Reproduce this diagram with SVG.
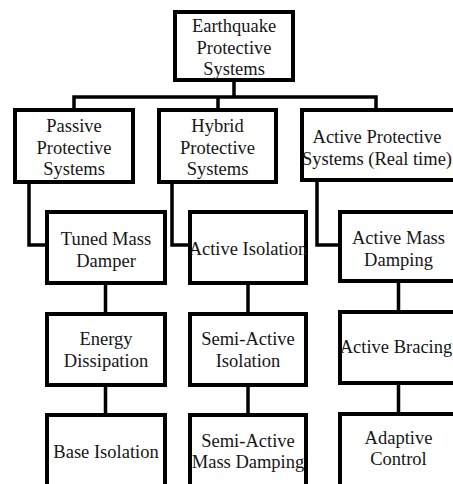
<svg xmlns="http://www.w3.org/2000/svg" width="453" height="484" viewBox="0 0 453 484" font-family="Liberation Serif, Times New Roman, serif">
<style>
.box{fill:#fff;stroke:#000;stroke-width:4;}
.t{font-family:'Liberation Serif', 'Times New Roman', serif;font-size:18.5px;fill:#161616;text-anchor:middle;}
.c{fill:none;stroke:#000;stroke-width:3.5;stroke-linejoin:miter;stroke-linecap:square;}
</style>
<rect width="453" height="484" fill="#fff"/>
<g id="connectors">
<path class="c" d="M234,82 V97 M74,110 V97 H376 V110 M218,97 V110"/>
<path class="c" d="M29,183 V245 H46"/>
<path class="c" d="M172,183 V245 H189"/>
<path class="c" d="M317,181 V245 H339"/>
<path class="c" d="M105.5,284 V312 M105.5,387 V414"/>
<path class="c" d="M248,284 V312 M248,387 V414"/>
<path class="c" d="M398.5,282 V310 M398.5,385 V412"/>
</g>
<g id="n-root">
<rect class="box" x="175" y="12" width="118" height="68"/>
<text class="t" x="234" y="32">Earthquake</text>
<text class="t" x="234" y="53.5">Protective</text>
<text class="t" x="234" y="75">Systems</text>
</g>
<g id="n-passive">
<rect class="box" x="15" y="110" width="118" height="72"/>
<text class="t" x="74" y="132">Passive</text>
<text class="t" x="74" y="153.5">Protective</text>
<text class="t" x="74" y="175">Systems</text>
</g>
<g id="n-hybrid">
<rect class="box" x="159" y="110" width="117" height="72"/>
<text class="t" x="217.5" y="132">Hybrid</text>
<text class="t" x="217.5" y="153.5">Protective</text>
<text class="t" x="217.5" y="175">Systems</text>
</g>
<g id="n-active">
<rect class="box" x="302" y="110" width="160" height="70"/>
<text class="t" x="377" y="143">Active Protective</text>
<text class="t" x="377" y="165">Systems (Real time)</text>
</g>
<g id="n-tuned">
<rect class="box" x="47" y="212" width="118" height="71"/>
<text class="t" x="106" y="245">Tuned Mass</text>
<text class="t" x="106" y="266.5">Damper</text>
</g>
<g id="n-active-isolation">
<rect class="box" x="190" y="212" width="116" height="71"/>
<text class="t" x="248" y="255">Active Isolation</text>
</g>
<g id="n-active-mass">
<rect class="box" x="340" y="212" width="130" height="69"/>
<text class="t" x="398.5" y="244">Active Mass</text>
<text class="t" x="398.5" y="265.5">Damping</text>
</g>
<g id="n-energy">
<rect class="box" x="47" y="314" width="118" height="71"/>
<text class="t" x="106" y="345">Energy</text>
<text class="t" x="106" y="367">Dissipation</text>
</g>
<g id="n-semi-isolation">
<rect class="box" x="190" y="314" width="116" height="71"/>
<text class="t" x="248" y="345">Semi-Active</text>
<text class="t" x="248" y="367">Isolation</text>
</g>
<g id="n-bracing">
<rect class="box" x="340" y="312" width="130" height="71"/>
<text class="t" x="396" y="353">Active Bracing</text>
</g>
<g id="n-base">
<rect class="box" x="47" y="415" width="118" height="100"/>
<text class="t" x="106" y="458">Base Isolation</text>
</g>
<g id="n-semi-mass">
<rect class="box" x="190" y="415" width="116" height="100"/>
<text class="t" x="248" y="447">Semi-Active</text>
<text class="t" x="248" y="468">Mass Damping</text>
</g>
<g id="n-adaptive">
<rect class="box" x="340" y="414" width="130" height="100"/>
<text class="t" x="398.5" y="444">Adaptive</text>
<text class="t" x="398.5" y="465">Control</text>
</g>
</svg>
